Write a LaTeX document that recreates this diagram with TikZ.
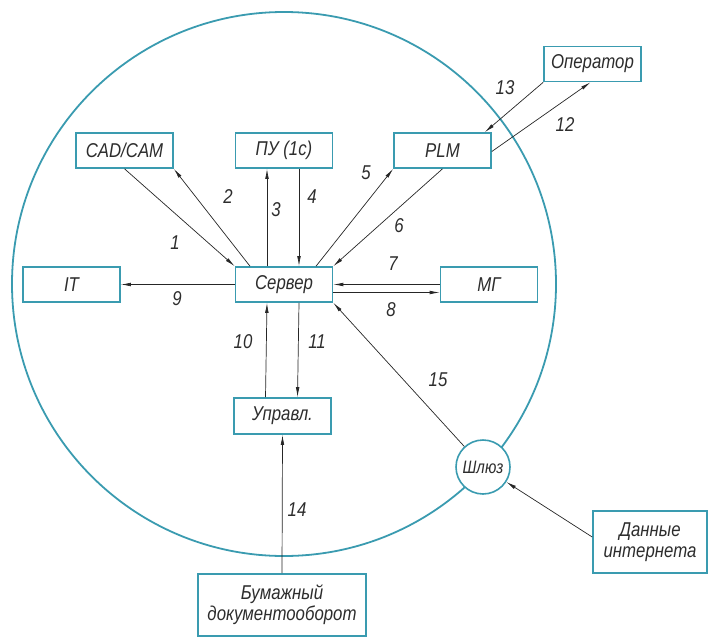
\documentclass[tikz,border=0pt]{standalone}
\usepackage{fontspec}
\setmainfont{Liberation Sans}
\newfontfamily\gost[FakeStretch=0.84]{Liberation Sans}
\usetikzlibrary{arrows.meta}
\definecolor{frame}{RGB}{58,155,176}
\definecolor{ink}{RGB}{45,45,45}
\tikzset{
  blk/.style={draw=frame, line width=1.6pt, fill=white, minimum width=97pt,
    minimum height=35pt, inner sep=1pt, text=ink, font=\gost\fontsize{20}{21}\selectfont\itshape},
  link/.style={draw=black!85, line width=0.7pt, -{Latex[length=10pt,width=3.6pt]}},
  num/.style={text=ink, font=\gost\fontsize{20}{21}\selectfont\itshape, inner sep=0pt}
}
\begin{document}
\begin{tikzpicture}[x=1pt,y=-1pt]
\useasboundingbox (0,0) rectangle (709,637);
% system boundary
\draw[frame, line width=1.8pt] (284,284) circle[radius=272];

% units
\node[blk] (srv) at (284,284.5) {Сервер};
\node[blk] (cad) at (124.5,150.5) {CAD/CAM};
\node[blk] (pu)  at (284,150.5) {ПУ (1с)};
\node[blk] (plm) at (442.5,150.5) {PLM};
\node[blk] (op)  at (592.5,64) {Оператор};
\node[blk] (it)  at (71.5,284.5) {IT};
\node[blk] (mg)  at (489,284.5) {МГ};
\node[blk, minimum height=36pt] (upr) at (282.5,416) {Управл.};
\node[blk, minimum width=168pt, minimum height=62pt, align=center] (bum) at (282,605)
  {Бумажный\\документооборот};
\node[blk, minimum width=114pt, minimum height=62pt, align=center] (dan) at (650,542)
  {Данные\\интернета};
\node[draw=frame, line width=1.6pt, fill=white, circle, minimum size=54pt, inner sep=0pt,
  text=ink, font=\gost\fontsize{18}{20}\selectfont\itshape] (sl) at (483,467) {Шлюз};

% data flows
\draw[link] (cad.south) -- (srv.north west);
\draw[link] ([xshift=-34pt]srv.north) -- (cad.south east);
\draw[link] ([xshift=-17pt]srv.north) -- ([xshift=-17pt]pu.south);
\draw[link] ([xshift=15pt]pu.south) -- ([xshift=15pt]srv.north);
\draw[link] ([xshift=32pt]srv.north) -- (plm.south west);
\draw[link] (plm.south) -- (srv.north east);
\draw[link] (mg.west) -- (srv.east);
\draw[link] ([yshift=-8pt]srv.east) -- ([yshift=-8pt]mg.west);
\draw[link] (srv.west) -- (it.east);
\draw[link] ([xshift=-17pt]upr.north) -- ([xshift=-17pt]srv.south);
\draw[link] ([xshift=15pt]srv.south) -- ([xshift=15pt]upr.north);
\draw[link] ([yshift=-1pt]plm.east) -- ([xshift=-2pt]op.south);
\draw[link] (op.south west) -- ([xshift=-7pt]plm.north east);
\draw[link] (bum.north) -- (upr.south);
\draw[link] (sl) -- (srv.south east);
\draw[link] ([yshift=5pt]dan.west) -- (sl);

% flow numbers
\node[num] (n1)  at (175,243) {1};
\node[num] (n2)  at (228,197) {2};
\node[num] (n3)  at (276,210) {3};
\node[num] (n4)  at (312,197) {4};
\node[num] (n5)  at (366,173) {5};
\node[num] (n6)  at (399,226) {6};
\node[num] (n7)  at (393,264) {7};
\node[num] (n8)  at (391,310) {8};
\node[num] (n9)  at (177,299) {9};
\node[num] (n10) at (243,342) {10};
\node[num] (n11) at (317,342) {11};
\node[num] (n12) at (565,125) {12};
\node[num] (n13) at (505,88) {13};
\node[num] (n14) at (297,510) {14};
\node[num] (n15) at (438,380) {15};
\end{tikzpicture}
\end{document}
